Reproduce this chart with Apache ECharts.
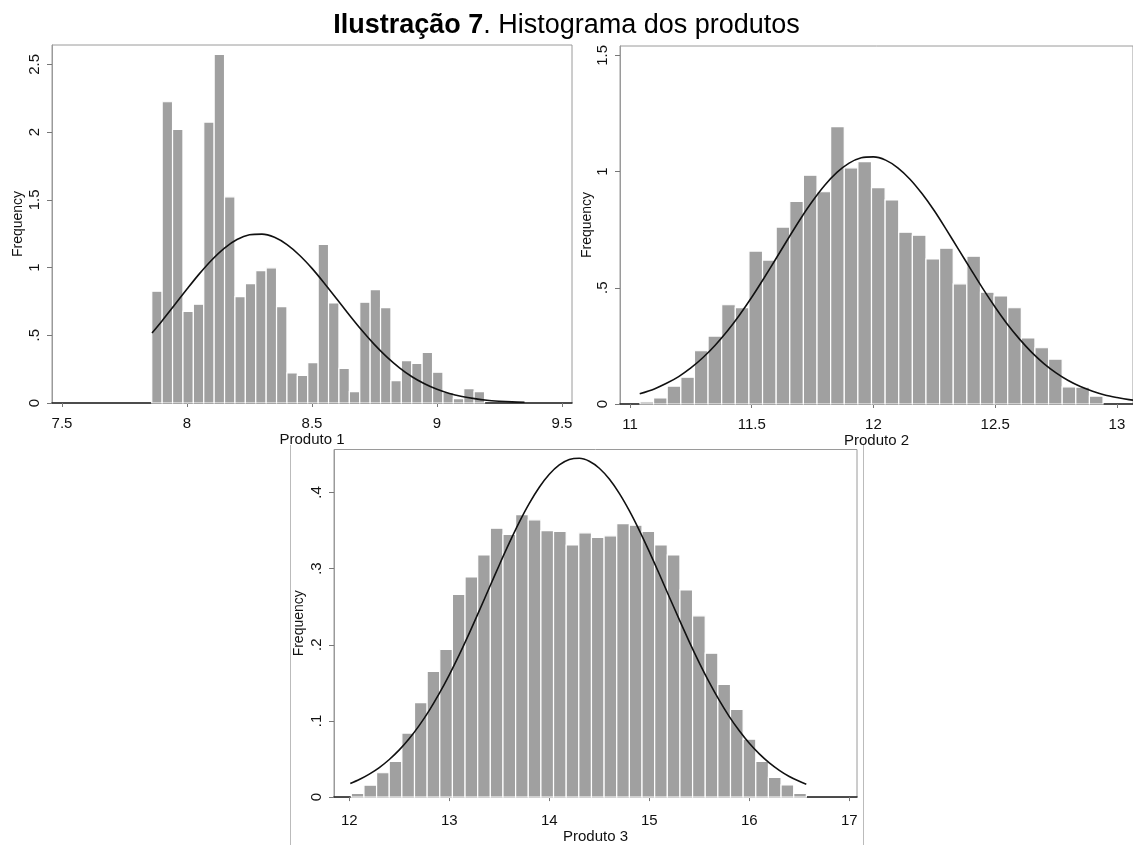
<!DOCTYPE html>
<html>
<head>
<meta charset="utf-8">
<script src="https://cdn.jsdelivr.net/npm/echarts@6/dist/echarts.min.js"></script>
<style>
  html, body { margin: 0; padding: 0; background: #fff; }
  #chart { width: 1133px; height: 845px; }
</style>
</head>
<body>
<div id="chart"></div>
<script>
// ---------- data ----------
const titleBold = 'Ilustração 7';
const titleRest = '. Histograma dos produtos';
const xNames = ['Produto 1', 'Produto 2', 'Produto 3'];
const yName = 'Frequency';

// Produto 1
const p1BinStart = 7.859;
const p1BinWidth = 0.0416;
const p1Heights = [0.825, 2.224, 2.02, 0.677, 0.729, 2.074, 2.574, 1.522, 0.786, 0.882,
  0.978, 0.998, 0.712, 0.222, 0.204, 0.298, 1.17, 0.739, 0.256, 0.084, 0.744, 0.837,
  0.704, 0.165, 0.313, 0.293, 0.374, 0.227, 0.079, 0.032, 0.106, 0.084];
const p1CurveX = [7.86, 7.9, 7.95, 8.0, 8.05, 8.1, 8.15, 8.2, 8.25, 8.3, 8.35, 8.4, 8.45, 8.5,
  8.55, 8.6, 8.65, 8.7, 8.75, 8.8, 8.85, 8.9, 8.95, 9.0, 9.05, 9.1, 9.15, 9.2, 9.25, 9.3, 9.35];
const p1CurveY = [0.517, 0.606, 0.723, 0.841, 0.955, 1.058, 1.144, 1.207, 1.242, 1.247, 1.223,
  1.169, 1.091, 0.994, 0.883, 0.766, 0.648, 0.535, 0.431, 0.339, 0.260, 0.194, 0.142, 0.101,
  0.070, 0.048, 0.032, 0.020, 0.013, 0.008, 0.005];
const p1XTicks = [7.5, 8, 8.5, 9, 9.5];
const p1YTicks = [0, 0.5, 1, 1.5, 2, 2.5];

// Produto 2
const p2BinStart = 11.041;
const p2BinWidth = 0.05594;
const p2Heights = [0.009, 0.026, 0.077, 0.115, 0.229, 0.292, 0.427, 0.415, 0.658, 0.619,
  0.761, 0.871, 0.984, 0.913, 1.193, 1.016, 1.043, 0.931, 0.878, 0.739, 0.726, 0.624,
  0.670, 0.517, 0.636, 0.481, 0.465, 0.414, 0.284, 0.242, 0.193, 0.074, 0.072, 0.034];
const p2CurveX = [11.04, 11.1, 11.15, 11.2, 11.25, 11.3, 11.35, 11.4, 11.45, 11.5, 11.55, 11.6,
  11.65, 11.7, 11.75, 11.8, 11.85, 11.9, 11.95, 12.0, 12.05, 12.1, 12.15, 12.2, 12.25, 12.3,
  12.35, 12.4, 12.45, 12.5, 12.55, 12.6, 12.65, 12.7, 12.75, 12.8, 12.85, 12.9, 12.95, 13.0,
  13.05, 13.1];
const p2CurveY = [0.044, 0.065, 0.089, 0.118, 0.155, 0.200, 0.253, 0.314, 0.383, 0.459, 0.541,
  0.626, 0.712, 0.796, 0.873, 0.941, 0.996, 1.036, 1.059, 1.063, 1.049, 1.016, 0.967, 0.904,
  0.831, 0.749, 0.664, 0.579, 0.495, 0.416, 0.343, 0.279, 0.222, 0.174, 0.134, 0.101, 0.075,
  0.055, 0.039, 0.028, 0.019, 0.013];
const p2XTicks = [11, 11.5, 12, 12.5, 13];
const p2YTicks = [0, 0.5, 1, 1.5];

// Produto 3
const p3BinStart = 12.02;
const p3BinWidth = 0.1264;
const p3Heights = [0.0047, 0.0157, 0.032, 0.047, 0.084, 0.124, 0.165, 0.194, 0.266, 0.289,
  0.318, 0.353, 0.345, 0.371, 0.364, 0.350, 0.349, 0.331, 0.347, 0.341, 0.343, 0.359,
  0.357, 0.349, 0.331, 0.318, 0.272, 0.238, 0.189, 0.148, 0.115, 0.076, 0.047, 0.026,
  0.016, 0.005];
const p3CurveX = [12.01, 12.1, 12.2, 12.3, 12.4, 12.5, 12.6, 12.7, 12.8, 12.9, 13.0, 13.1, 13.2,
  13.3, 13.4, 13.5, 13.6, 13.7, 13.8, 13.9, 14.0, 14.1, 14.2, 14.3, 14.4, 14.5, 14.6, 14.7,
  14.8, 14.9, 15.0, 15.1, 15.2, 15.3, 15.4, 15.5, 15.6, 15.7, 15.8, 15.9, 16.0, 16.1, 16.2,
  16.3, 16.4, 16.5, 16.57];
const p3CurveY = [0.018, 0.0231, 0.0302, 0.0388, 0.0494, 0.0620, 0.0769, 0.0942, 0.1139, 0.1361,
  0.1606, 0.1871, 0.2154, 0.2448, 0.2749, 0.3048, 0.3337, 0.3610, 0.3856, 0.4068, 0.4238,
  0.4361, 0.4432, 0.4449, 0.4410, 0.4318, 0.4176, 0.3988, 0.3761, 0.3503, 0.3223, 0.2929,
  0.2628, 0.2330, 0.2039, 0.1763, 0.1505, 0.1269, 0.1057, 0.0870, 0.0706, 0.0567, 0.0449,
  0.0352, 0.0271, 0.0207, 0.0170];
const p3XTicks = [12, 13, 14, 15, 16, 17];
const p3YTicks = [0, 0.1, 0.2, 0.3, 0.4];

// axis ranges
const p1XRange = [7.46, 9.54], p1YRange = [0, 2.643];
const p2XRange = [10.959, 13.066], p2YRange = [0, 1.54];
const p3XRange = [11.847, 17.077], p3YRange = [0, 0.4564];

// ---------- chart ----------
const FONT = '"Liberation Sans", Arial, Helvetica, sans-serif';
const FRAME = '#9a9a9a';
const BAR = '#a0a0a0';

function bins(start, width, heights) {
  return heights.map((h, i) => [start + i * width, h, width]);
}
function pairs(xs, ys) { return xs.map((x, i) => [x, ys[i]]); }
function fmt(v) {
  let s = String(Math.round(v * 1000) / 1000);
  return s.replace(/^0\./, '.');
}

const grids = [
  { left: 52, top: 45, width: 520, height: 358 },
  { left: 620, top: 46, width: 513, height: 358 },
  { left: 334, top: 449.5, width: 523, height: 359 }
];

const xRanges = [p1XRange, p2XRange, p3XRange];
const yRanges = [p1YRange, p2YRange, p3YRange];
const xTicks = [p1XTicks, p2XTicks, p3XTicks];
const yTicks = [p1YTicks, p2YTicks, p3YTicks];
const xLabelMargin = [13, 13, 16];
const xNameGap = [25, 25, 31];
const yNameGap = [27, 25, 28];
const barData = [
  bins(p1BinStart, p1BinWidth, p1Heights),
  bins(p2BinStart, p2BinWidth, p2Heights),
  bins(p3BinStart, p3BinWidth, p3Heights)
];
const curveData = [
  pairs(p1CurveX, p1CurveY),
  pairs(p2CurveX, p2CurveY),
  pairs(p3CurveX, p3CurveY)
];

const option = {
  backgroundColor: '#fff',
  animation: false,
  title: {
    text: '{b|' + titleBold + '}{n|' + titleRest + '}',
    left: 'center',
    top: 7,
    textStyle: {
      rich: {
        b: { fontFamily: FONT, fontSize: 27, fontWeight: 'bold', color: '#000' },
        n: { fontFamily: FONT, fontSize: 27, fontWeight: 'normal', color: '#000' }
      }
    }
  },
  grid: grids.map(g => Object.assign({ show: true, borderColor: FRAME, borderWidth: 1, backgroundColor: '#fff' }, g)),
  xAxis: grids.map((g, i) => ({
    type: 'value',
    gridIndex: i,
    min: xRanges[i][0],
    max: xRanges[i][1],
    name: xNames[i],
    nameLocation: 'middle',
    nameGap: xNameGap[i],
    nameTextStyle: { fontFamily: FONT, fontSize: 15, color: '#111' },
    splitLine: { show: false },
    axisLine: { show: true, onZero: false, lineStyle: { color: '#222', width: 1.5 } },
    axisTick: { show: true, length: 4, lineStyle: { color: '#777' }, customValues: xTicks[i] },
    axisLabel: { customValues: xTicks[i], margin: xLabelMargin[i], fontFamily: FONT, fontSize: 15, color: '#111', formatter: fmt }
  })),
  yAxis: grids.map((g, i) => ({
    type: 'value',
    gridIndex: i,
    min: yRanges[i][0],
    max: yRanges[i][1],
    name: yName,
    nameLocation: 'middle',
    nameGap: yNameGap[i],
    nameTextStyle: { fontFamily: FONT, fontSize: 14, color: '#111' },
    splitLine: { show: false },
    axisLine: { show: true, lineStyle: { color: FRAME, width: 1 } },
    axisTick: { show: true, length: 5, lineStyle: { color: '#777' }, customValues: yTicks[i] },
    axisLabel: { customValues: yTicks[i], rotate: 90, margin: 10, fontFamily: FONT, fontSize: 15, color: '#111', formatter: fmt }
  })),
  series: []
};

for (let i = 0; i < 3; i++) {
  option.series.push({
    type: 'custom',
    xAxisIndex: i,
    yAxisIndex: i,
    silent: true,
    z: 2,
    data: barData[i],
    encode: { x: 0, y: 1 },
    renderItem: function (params, api) {
      const x0 = api.value(0), h = api.value(1), w = api.value(2);
      const p0 = api.coord([x0, h]);
      const p1 = api.coord([x0 + w, 0]);
      return {
        type: 'rect',
        shape: { x: p0[0], y: p0[1], width: p1[0] - p0[0], height: p1[1] - p0[1] },
        style: { fill: BAR, stroke: '#ffffff', lineWidth: 1.2 }
      };
    }
  });
  option.series.push({
    type: 'line',
    xAxisIndex: i,
    yAxisIndex: i,
    data: curveData[i],
    smooth: 0.3,
    showSymbol: false,
    silent: true,
    z: 5,
    lineStyle: { color: '#111', width: 1.6 }
  });
}

option.graphic = [
  { type: 'line', shape: { x1: 290.5, y1: 445, x2: 290.5, y2: 845 }, style: { stroke: '#bbb', lineWidth: 1 } },
  { type: 'line', shape: { x1: 863.5, y1: 445, x2: 863.5, y2: 845 }, style: { stroke: '#bbb', lineWidth: 1 } }
];

const chart = echarts.init(document.getElementById('chart'), null, { renderer: 'canvas' });
chart.setOption(option);
</script>
</body>
</html>
